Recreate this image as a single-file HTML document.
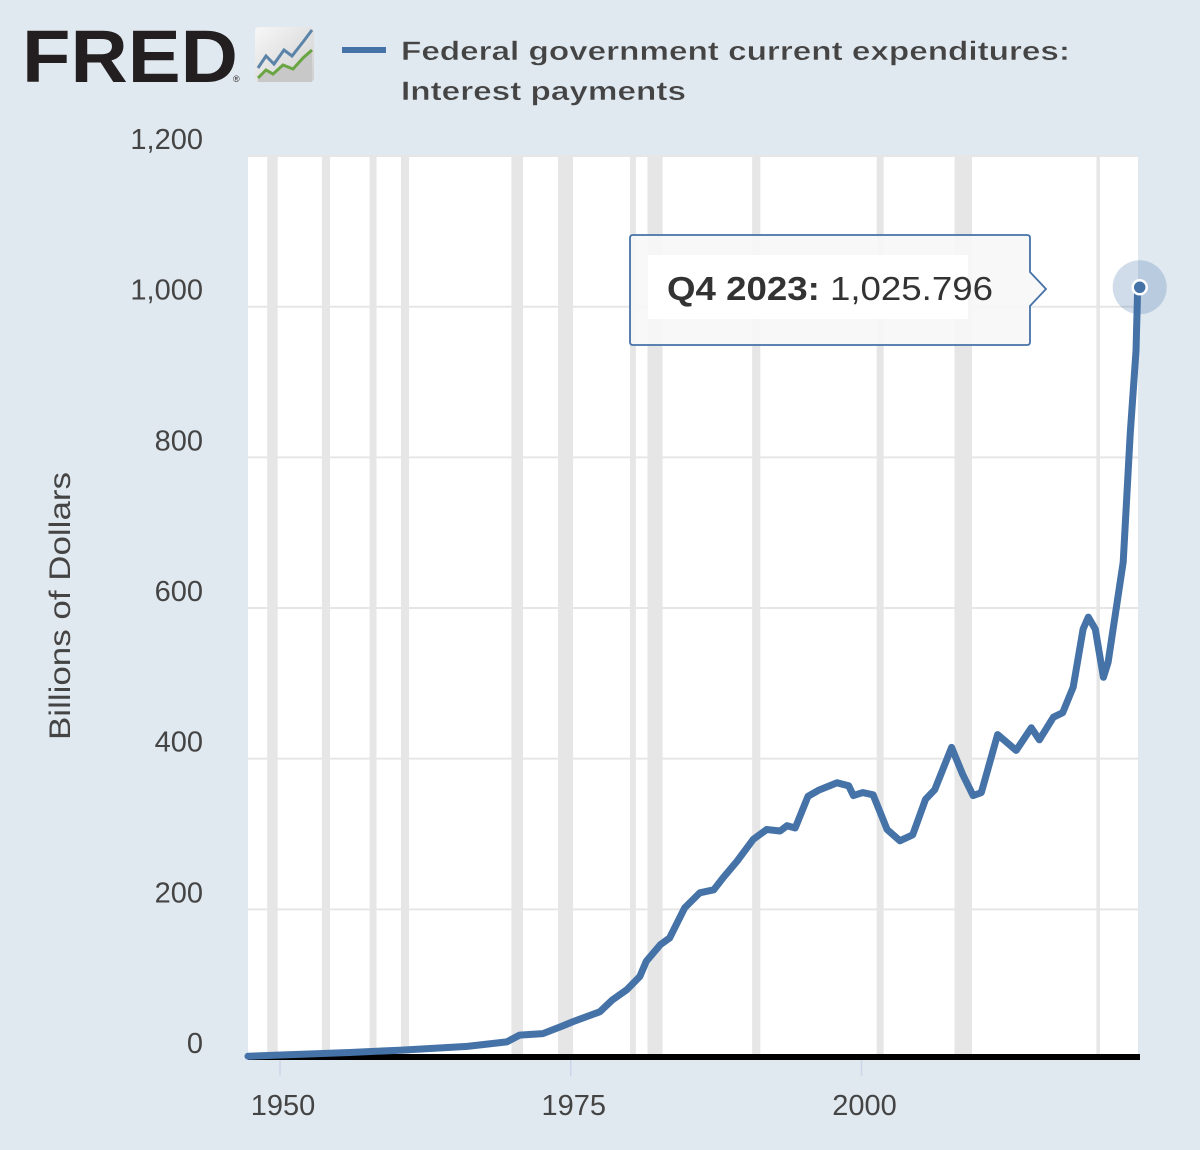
<!DOCTYPE html>
<html><head><meta charset="utf-8"><style>
html,body{margin:0;padding:0;background:#e1e9f0;}
svg{display:block;font-family:"Liberation Sans",sans-serif;}
</style></head><body>
<svg id="chart" width="1200" height="1150" viewBox="0 0 1200 1150" xmlns="http://www.w3.org/2000/svg">
<rect width="1200" height="1150" fill="#e1e9f0"/>
<g>
<text x="22" y="82" font-size="74" font-weight="bold" fill="#231f20" textLength="216" lengthAdjust="spacingAndGlyphs">FRED</text>
<text x="233" y="82" font-size="9" fill="#231f20">®</text>
<defs><linearGradient id="ig" x1="0" y1="0" x2="1" y2="1"><stop offset="0" stop-color="#f7f7f7"/><stop offset="1" stop-color="#cfcfcf"/></linearGradient></defs>
<rect x="255" y="27" width="59" height="55" rx="4" fill="url(#ig)"/>
<polyline points="258,78 266,70 273,74 283,65 293,69 303,58 312,50 312,82 258,82" fill="#c8c8c8"/>
<polyline points="258,68 266,56 274,64 284,50 292,56 303,42 312,30" fill="none" stroke="#5b84a8" stroke-width="3"/>
<polyline points="258,78 266,70 273,74 283,65 293,69 303,58 312,50" fill="none" stroke="#6aa544" stroke-width="3"/>
</g>
<g>
<line x1="342" y1="50" x2="386" y2="50" stroke="#4572a7" stroke-width="6"/>
<text x="401" y="60" font-size="27" font-weight="bold" fill="#444" stroke="#e1e9f0" stroke-width="0.4" textLength="669" lengthAdjust="spacingAndGlyphs">Federal government current expenditures:</text>
<text x="401" y="100" font-size="27" font-weight="bold" fill="#444" stroke="#e1e9f0" stroke-width="0.4" textLength="285" lengthAdjust="spacingAndGlyphs">Interest payments</text>
</g>
<rect x="248" y="155" width="890" height="905" fill="#ffffff"/>
<g id="bands"></g>
<g id="grid"></g>
<g id="yaxis"></g>
<g id="xaxis"></g>
<text transform="translate(70,606) rotate(-90)" text-anchor="middle" font-size="30" fill="#444" textLength="268" lengthAdjust="spacingAndGlyphs">Billions of Dollars</text>
<g id="series"></g>
<g>
<path d="M633,235 H1027 Q1030,235 1030,238 V272 L1046,289 L1030,306 V342 Q1030,345 1027,345 H633 Q630,345 630,342 V238 Q630,235 633,235 Z" fill="rgba(247,247,247,0.92)" stroke="#4572a7" stroke-width="1.8"/>
<rect x="648" y="255" width="320" height="64" fill="#ffffff"/>
<text x="667" y="300" font-size="33" fill="#333" textLength="326" lengthAdjust="spacingAndGlyphs"><tspan font-weight="bold">Q4 2023:</tspan> 1,025.796</text>
</g>
<g id="marker"></g>
</svg>
<script>
const years = [1947.25,1956,1960.3,1966.1,1969.5,1970.6,1972.6,1974.1,1975.2,1977.5,1978.6,1979.8,1980.95,1981.5,1982.7,1983.5,1984.8,1986.1,1987.3,1988.1,1989.3,1990.7,1991.85,1993.0,1993.6,1994.3,1995.4,1996.3,1997.9,1998.9,1999.3,2000.1,2001.0,2002.2,2003.3,2004.4,2005.5,2006.3,2007.75,2008.7,2009.6,2010.3,2011.7,2013.3,2014.6,2015.3,2016.5,2017.3,2018.2,2019.05,2019.5,2020.1,2020.8,2021.2,2022.5,2023.1,2023.6,2023.75];
const values = [5,10,13,18,24,33,35,44,51,64,80,93,111,131,153,162,202,222,226,242,264,293,306,304,311,308,350,358,368,364,351,355,352,306,291,299,346,359,415,379,351,355,432,411,441,425,455,461,495,572,588,572,508,528,661,831,941,1025.796];
const recStart = [1948.9,1953.6,1957.7,1960.4,1969.9,1973.9,1980.1,1981.6,1990.6,2001.3,2008.0,2020.2];
const recEnd = [1949.8,1954.3,1958.3,1961.1,1970.9,1975.2,1980.6,1982.9,1991.3,2001.9,2009.5,2020.5];
const yTicks = [0,200,400,600,800,1000,1200];
const yTickLabels = ["0","200","400","600","800","1,000","1,200"];
const xTicks = [1950,1975,2000];
const xTickLabels = ["1950","1975","2000"];

const NS = "http://www.w3.org/2000/svg";
function xs(yr){ return 280 + (yr - 1950) * 11.63; }
function ys(v){ return 1060 - v * 0.7533; }
function mk(tag, attrs, parent){ const e = document.createElementNS(NS, tag); for (const k in attrs) e.setAttribute(k, attrs[k]); parent.appendChild(e); return e; }

const bands = document.getElementById('bands');
recStart.forEach((s, i) => {
  const r = mk('rect', {x: xs(s), y: 155, width: xs(recEnd[i]) - xs(s), height: 905, fill: '#e6e6e6'}, bands);
  
  
});
const grid = document.getElementById('grid');
const yax = document.getElementById('yaxis');
yTicks.forEach((t, i) => {
  if (t > 0) {
    const l = mk('line', {x1: 248, x2: 1138, y1: ys(t), y2: ys(t), stroke: '#e6e6e6', 'stroke-width': 2}, grid);
    
    
  }
  const tx = mk('text', {x: 203, y: ys(t) - 7, 'text-anchor': 'end', 'font-size': 29, fill: '#444'}, yax);
  tx.textContent = yTickLabels[i];
  
  
});
const xax = document.getElementById('xaxis');
const axl = mk('line', {x1: 248, x2: 1140, y1: 1057, y2: 1057, stroke: '#000', 'stroke-width': 6}, xax);


xTicks.forEach((t, i) => {
  const tk = mk('line', {x1: xs(t), x2: xs(t), y1: 1060, y2: 1076, stroke: '#ccd6eb', 'stroke-width': 1.5}, xax);
  
  
  const tx = mk('text', {x: xs(t) + 3, y: 1115, 'text-anchor': 'middle', 'font-size': 29, fill: '#444'}, xax);
  tx.textContent = xTickLabels[i];
  
  
});
const series = document.getElementById('series');
const pts = years.map((y, i) => xs(y).toFixed(1) + ',' + ys(values[i]).toFixed(1)).join(' ');
const pl = mk('polyline', {points: pts, fill: 'none', stroke: '#4572a7', 'stroke-width': 7, 'stroke-linejoin': 'round', 'stroke-linecap': 'round'}, series);


const mg = document.getElementById('marker');
const lx = xs(years[years.length - 1]), ly = ys(values[values.length - 1]);
const halo = mk('circle', {cx: lx + 2, cy: ly, r: 27, fill: 'rgba(69,114,167,0.25)'}, mg);


const dot = mk('circle', {cx: lx + 2, cy: ly, r: 7, fill: '#4572a7', stroke: '#fff', 'stroke-width': 2.5}, mg);


</script>
</body></html>
